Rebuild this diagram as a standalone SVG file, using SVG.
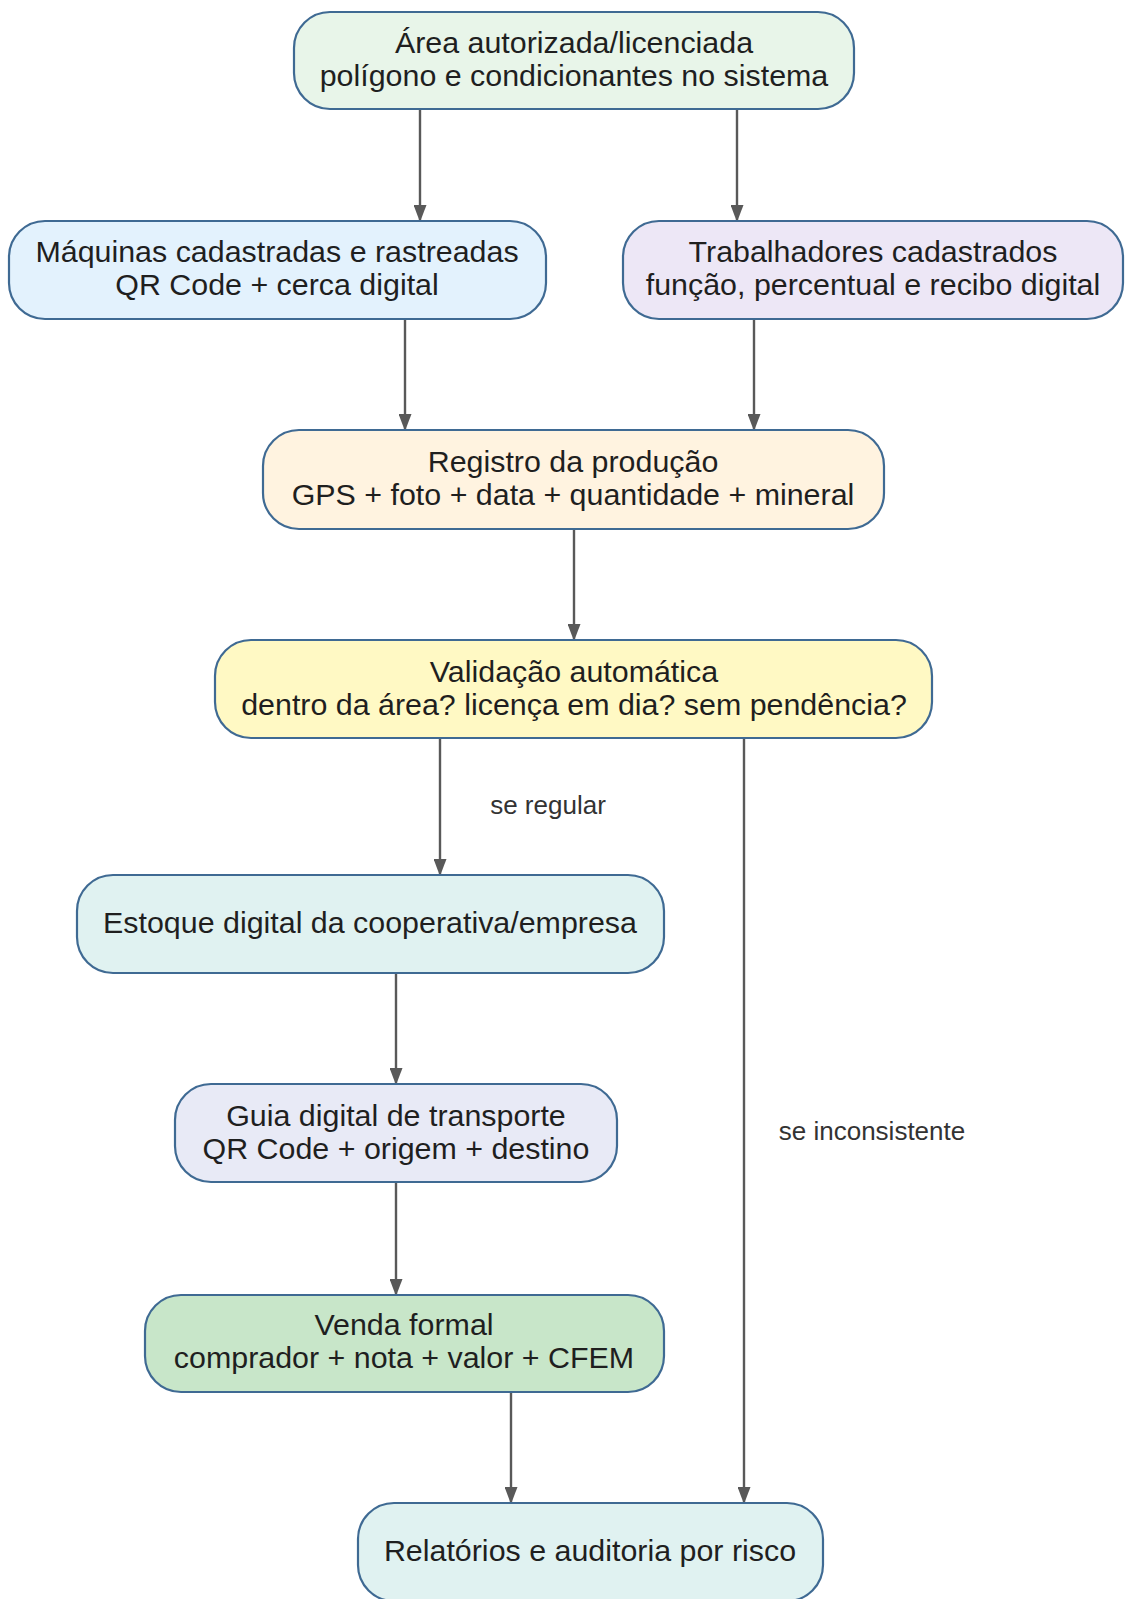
<svg xmlns="http://www.w3.org/2000/svg" width="1126" height="1599" viewBox="0 0 1126 1599">
<defs>
<style>
.n rect{stroke:#3f6a93;stroke-width:2.2}
.n text{font-family:"Liberation Sans",Arial,sans-serif;font-size:30.4px;fill:#1f1f1f;text-anchor:middle}
.e path{stroke:#595959;stroke-width:2.4;fill:none;marker-end:url(#ah)}
.lbl{font-family:"Liberation Sans",Arial,sans-serif;font-size:26px;fill:#333;text-anchor:middle}
</style>
<marker id="ah" viewBox="0 0 17 13" refX="16" refY="6.5" markerWidth="17" markerHeight="13" markerUnits="userSpaceOnUse" orient="auto">
<path d="M0,0 L17,6.5 L0,13 Z" fill="#595959"/>
</marker>
</defs>
<rect width="1126" height="1599" fill="#fff"/>
<g id="edges" class="e">
<path d="M420,109 V221"/>
<path d="M737,109 V221"/>
<path d="M405,319 V430"/>
<path d="M754,319 V430"/>
<path d="M574,529 V640"/>
<path d="M440,738 V875"/>
<path d="M744,738 V1503"/>
<path d="M396,973 V1084"/>
<path d="M396,1182 V1295"/>
<path d="M511,1392 V1503"/>
<text class="lbl" x="548" y="814">se regular</text>
<text class="lbl" x="872" y="1140">se inconsistente</text>
</g>
<g id="n1" class="n">
<rect x="294" y="12" width="560" height="97" rx="36" fill="#e8f5e9"/>
<text x="574" y="53">Área autorizada/licenciada</text>
<text x="574" y="85.5">polígono e condicionantes no sistema</text>
</g>
<g id="n2" class="n">
<rect x="9" y="221" width="537" height="98" rx="36" fill="#e3f2fd"/>
<text x="277" y="262">Máquinas cadastradas e rastreadas</text>
<text x="277" y="294.5">QR Code + cerca digital</text>
</g>
<g id="n3" class="n">
<rect x="623" y="221" width="500" height="98" rx="36" fill="#ede7f6"/>
<text x="873" y="262">Trabalhadores cadastrados</text>
<text x="873" y="294.5">função, percentual e recibo digital</text>
</g>
<g id="n4" class="n">
<rect x="263" y="430" width="621" height="99" rx="36" fill="#fff3e0"/>
<text x="573" y="472">Registro da produção</text>
<text x="573" y="505">GPS + foto + data + quantidade + mineral</text>
</g>
<g id="n5" class="n">
<rect x="215" y="640" width="717" height="98" rx="36" fill="#fff9c4"/>
<text x="574" y="682">Validação automática</text>
<text x="574" y="715">dentro da área? licença em dia? sem pendência?</text>
</g>
<g id="n6" class="n">
<rect x="77" y="875" width="587" height="98" rx="36" fill="#e0f2f1"/>
<text x="370" y="933">Estoque digital da cooperativa/empresa</text>
</g>
<g id="n7" class="n">
<rect x="175" y="1084" width="442" height="98" rx="36" fill="#e8eaf6"/>
<text x="396" y="1126">Guia digital de transporte</text>
<text x="396" y="1158.5">QR Code + origem + destino</text>
</g>
<g id="n8" class="n">
<rect x="145" y="1295" width="519" height="97" rx="36" fill="#c8e6c9"/>
<text x="404" y="1335">Venda formal</text>
<text x="404" y="1368">comprador + nota + valor + CFEM</text>
</g>
<g id="n9" class="n">
<rect x="358" y="1503" width="465" height="98" rx="36" fill="#e0f2f1"/>
<text x="590" y="1561">Relatórios e auditoria por risco</text>
</g>
</svg>
